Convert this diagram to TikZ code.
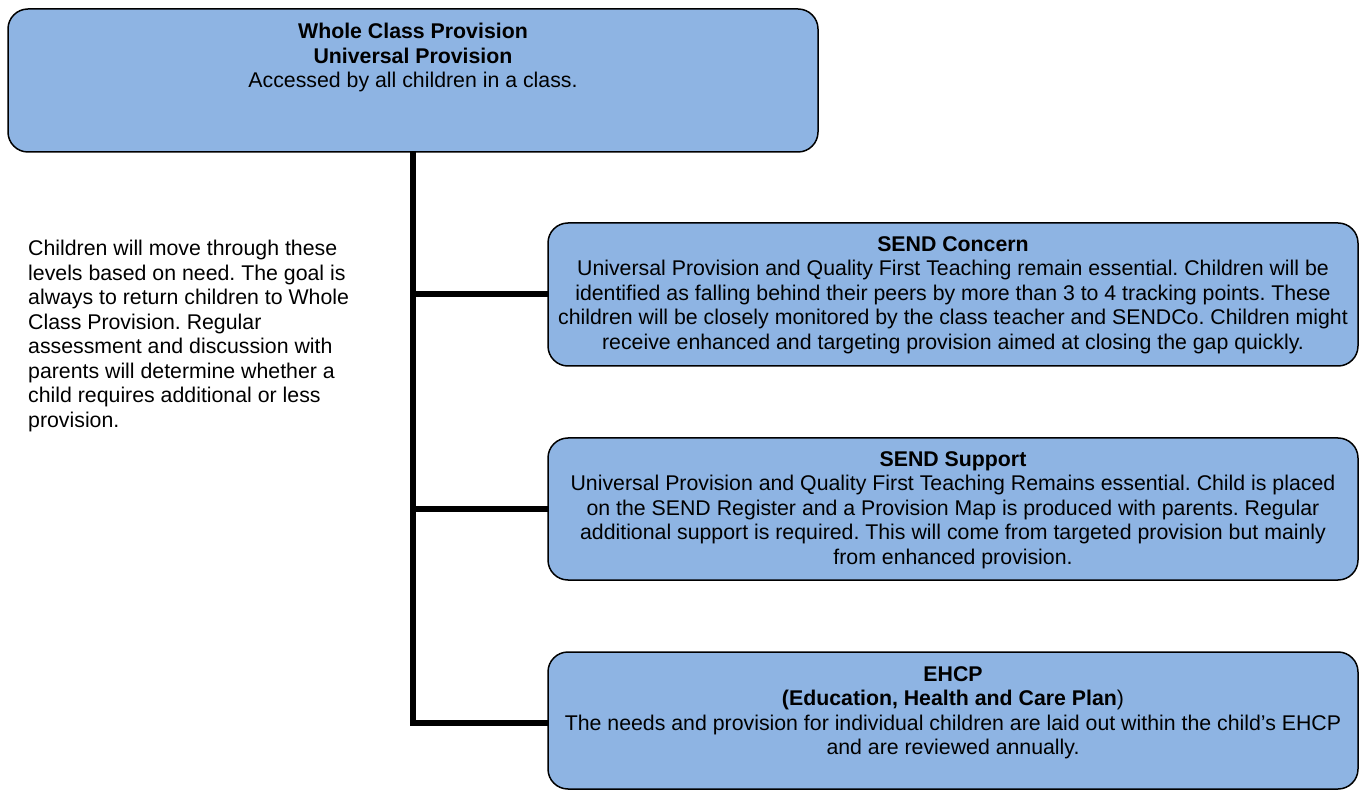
\documentclass[tikz,border=0pt]{standalone}
\usepackage{fontspec}
\setmainfont{Liberation Sans}
\definecolor{boxfill}{RGB}{142,180,227}
\begin{document}
\begin{tikzpicture}[x=1pt,y=-1pt,
  box/.style={draw=black, line width=1.5pt, fill=boxfill, rounded corners=20pt,
    minimum width=810pt, outer sep=0pt, inner sep=0pt},
  conn/.style={draw=black, line width=6pt},
  txt/.style={inner sep=0pt, align=center, anchor=north,
    font=\fontsize{21.3}{24.5}\selectfont\frenchspacing},
  ltxt/.style={inner sep=0pt, align=left, anchor=north west,
    font=\fontsize{21.3}{24.5}\selectfont\frenchspacing}]
\useasboundingbox (0,0) rectangle (1363,791);
\fill[white] (0,0) rectangle (1363,791);
% boxes
\node[box, minimum height=143pt] (top) at (413,80.5) {};
\node[box, minimum height=143pt] (concern) at (953,294.5) {};
\node[box, minimum height=142pt] (support) at (953,509) {};
\node[box, minimum height=137pt] (ehcp) at (953,720.5) {};
% connectors
\coordinate (trunkend) at (413,723);
\draw[conn] (top.south) -- (trunkend) -- (trunkend -| ehcp.west);
\draw[conn] (concern.west -| top.south) -- (concern.west);
\draw[conn] (support.west -| top.south) -- (support.west);
% texts
\node[txt] (toptxt) at (413,23) {\textbf{Whole Class Provision}\\\textbf{Universal Provision}\\Accessed by all children in a class.};
\node[txt] (concerntxt) at (953,236) {\textbf{SEND Concern}\\
Universal Provision and Quality First Teaching remain essential. Children will be\\
identified as falling behind their peers by more than 3 to 4 tracking points. These\\
children will be closely monitored by the class teacher and SENDCo. Children might\\
receive enhanced and targeting provision aimed at closing the gap quickly.};
\node[txt] (supporttxt) at (953,451) {\textbf{SEND Support}\\
Universal Provision and Quality First Teaching Remains essential. Child is placed\\
on the SEND Register and a Provision Map is produced with parents. Regular\\
additional support is required. This will come from targeted provision but mainly\\
from enhanced provision.};
\node[txt] (ehcptxt) at (953,666) {\textbf{EHCP}\\
\textbf{(Education, Health and Care Plan}{)}\\
The needs and provision for individual children are laid out within the child’s EHCP\\
and are reviewed annually.};
\node[ltxt] (side) at (28,240) {Children will move through these\\
levels based on need. The goal is\\
always to return children to Whole\\
Class Provision. Regular\\
assessment and discussion with\\
parents will determine whether a\\
child requires additional or less\\
provision.};
\end{tikzpicture}
\end{document}
